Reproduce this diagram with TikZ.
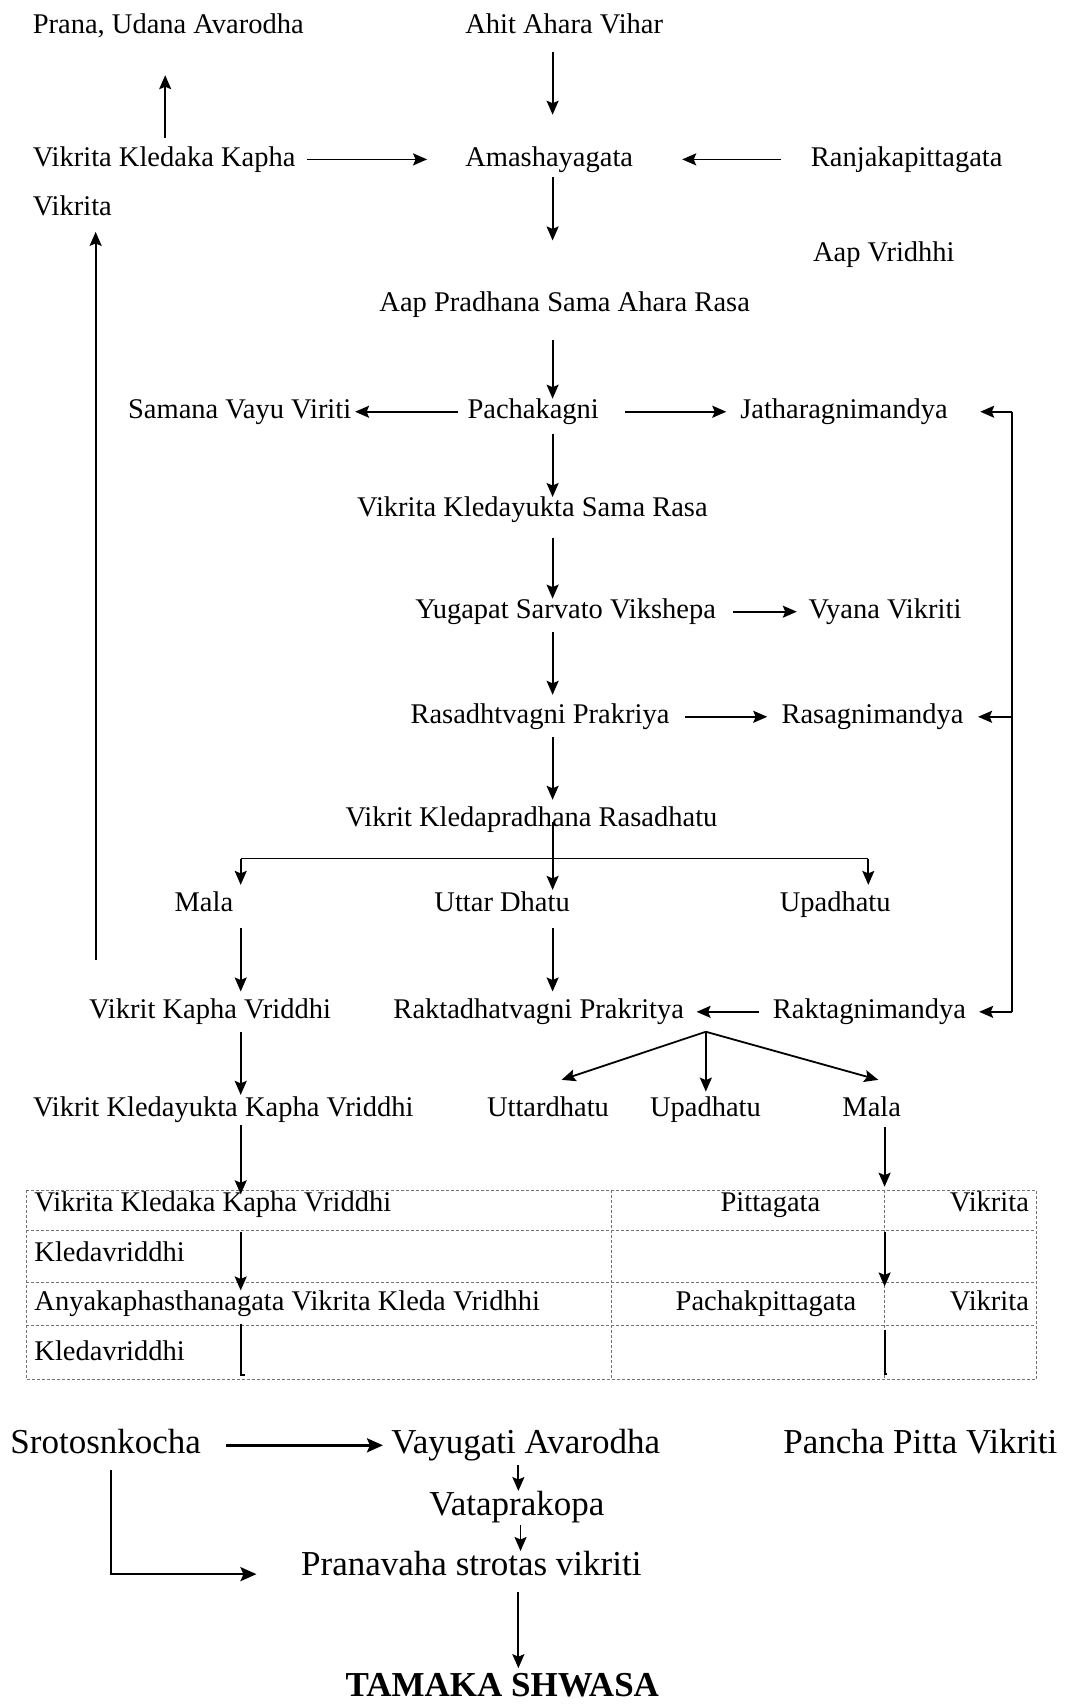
\documentclass[tikz,border=0pt]{standalone}
\usepackage{fontspec}
\setmainfont{Liberation Serif}
\usetikzlibrary{arrows.meta,calc}
\newdimen\pxu \pxu=1.0866pt
\begin{document}
\begin{tikzpicture}[x=1.0866pt,y=-1.0866pt,
  lbl/.style={inner sep=0pt,anchor=base west,font=\fontsize{28.5}{30}\selectfont,text height=19.5pt,text depth=6.2pt},
  lble/.style={lbl,anchor=base east},
  big/.style={inner sep=0pt,anchor=base west,font=\fontsize{35}{38}\selectfont,text height=24pt,text depth=7.6pt},
  arr/.style={line width=1.8pt,-{Stealth[length=14pt,width=12pt,inset=2.5pt]}},
  arrb/.style={line width=2.6pt,-{Stealth[length=16pt,width=14pt,inset=3pt]}},
  ln/.style={line width=1.8pt},
  tbl/.style={draw=black!55,line width=1.1pt,dash pattern=on 3pt off 2pt},
  sa/.style={shorten <=#1\pxu},
  sb/.style={shorten >=#1\pxu}]
\fill[white] (0,0) rectangle (982,1568);
\useasboundingbox (0,0) rectangle (982,1568);

% column coordinates
\coordinate (T) at (508.5,0);
\coordinate (cA) at (152,0);
\coordinate (cV) at (88,0);
\coordinate (cL) at (221.5,0);
\coordinate (cR) at (814,0);
\coordinate (Lx) at (931,0);
\coordinate (T2) at (477,0);
\coordinate (T3) at (479,0);
\coordinate (brL) at (221.5,790);
\coordinate (brR) at (799,790);
\coordinate (apex) at (649.5,949.4);
\coordinate (cS) at (102,1448.5);

% nodes
\node[lbl] (prana) at (30,30.7) {Prana, Udana Avarodha};
\node[lbl] (ahit) at (428,30.7) {Ahit Ahara Vihar};
\node[lbl] (vkk) at (30,152.8) {Vikrita Kledaka Kapha};
\node[lbl] (amash) at (428,152.8) {Amashayagata};
\node[lbl] (ranjak) at (746,152.8) {Ranjakapittagata};
\node[lbl] (vikrita1) at (30,197.9) {Vikrita};
\node[lbl] (aapv) at (748,240.8) {Aap Vridhhi};
\node[lbl] (aap) at (349,286.8) {Aap Pradhana Sama Ahara Rasa};
\node[lbl] (samana) at (117.7,385) {Samana Vayu Viriti};
\node[lbl] (pachak) at (430,385) {Pachakagni};
\node[lbl] (jathar) at (681,385) {Jatharagnimandya};
\node[lbl] (vksr) at (328.5,475.5) {Vikrita Kledayukta Sama Rasa};
\node[lbl] (yuga) at (382,569) {Yugapat Sarvato Vikshepa};
\node[lbl] (vyana) at (744,569) {Vyana Vikriti};
\node[lbl] (rasad) at (377.6,665.7) {Rasadhtvagni Prakriya};
\node[lbl] (rasag) at (719,665.7) {Rasagnimandya};
\node[lbl] (vkrd) at (317.8,760.2) {Vikrit Kledapradhana Rasadhatu};
\node[lbl] (mala1) at (160.5,839) {Mala};
\node[lbl] (uttar1) at (399.6,839) {Uttar Dhatu};
\node[lbl] (upa1) at (717.4,839) {Upadhatu};
\node[lbl] (vkv) at (81.8,937.2) {Vikrit Kapha Vriddhi};
\node[lbl] (rakt) at (361.9,937.2) {Raktadhatvagni Prakritya};
\node[lbl] (raktm) at (711,937.2) {Raktagnimandya};
\node[lbl] (vkkv) at (30.2,1027.7) {Vikrit Kledayukta Kapha Vriddhi};
\node[lbl] (uttar2) at (448,1027.7) {Uttardhatu};
\node[lbl] (upa2) at (598,1027.7) {Upadhatu};
\node[lbl] (mala2) at (775,1027.7) {Mala};

% table
\draw[tbl] (24,1095.2) rectangle (953.4,1269.4);
\draw[tbl] (24,1132.6) -- (953.4,1132.6);
\draw[tbl] (24,1180.1) -- (953.4,1180.1);
\draw[tbl] (24,1219.4) -- (953.4,1219.4);
\draw[tbl] (563,1095.2) -- (563,1269.4);
\draw[tbl] (814,1095.2) -- (814,1269.4);
\node[lbl] (t11) at (31.5,1115.1) {Vikrita Kledaka Kapha Vriddhi};
\node[lble] (t12) at (755,1115.1) {Pittagata};
\node[lble] (t13) at (947,1115.1) {Vikrita};
\node[lbl] (t21) at (31.5,1161.1) {Kledavriddhi};
\node[lbl] (t31) at (31.5,1205.6) {Anyakaphasthanagata Vikrita Kleda Vridhhi};
\node[lble] (t32) at (788,1205.6) {Pachakpittagata};
\node[lble] (t33) at (947,1205.6) {Vikrita};
\node[lbl] (t41) at (31.5,1251.6) {Kledavriddhi};

% bottom nodes
\node[big] (sroto) at (9.4,1337.5) {Srotosnkocha};
\node[big] (vayu) at (360,1337.5) {Vayugati Avarodha};
\node[big] (pancha) at (720.6,1337.5) {Pancha Pitta Vikriti};
\node[big] (vata) at (395,1394.3) {Vataprakopa};
\node[big] (prana2) at (277,1449.5) {Pranavaha strotas vikriti};
\node[big,font=\fontsize{35}{38}\selectfont\bfseries] (tamaka) at (317.8,1561.4) {TAMAKA SHWASA};

% connectors
\draw[arr,sa=11.2,sb=29.1] (ahit.south -| T) -- (amash.north -| T);
\draw[arr,sa=7.9,sb=32.6] (vkk.north -| cA) -- (prana.south -| cA);
\draw[arr,sa=10,sb=35] (vkk.east) -- (amash.west);
\draw[arr,sa=27,sb=45] (ranjak.west) -- (amash.east);
\draw[arr,sa=4.1,sb=47.4] (amash.south -| T) -- (aap.north -| T);
\draw[arr,sa=35.8,sb=9.6] (vkv.north -| cV) -- (vikrita1.south -| cV);
\draw[arr,sa=20.4] (aap.south -| T) -- (pachak.north -| T);
\draw[arr,sa=8.4,sb=3.4] (pachak.west) -- (samana.east);
\draw[arr,sa=23.6,sb=12.7] (pachak.east) -- (jathar.west);
\draw[ln] (jathar.east -| Lx) -- (raktm.east -| Lx);
\draw[arr] (jathar.east -| Lx) -- ($(jathar.east -| Lx)+(-29,0)$);
\draw[arr] (rasag.east -| Lx) -- ($(rasag.east -| Lx)+(-31,0)$);
\draw[arr] (raktm.east -| Lx) -- ($(raktm.east -| Lx)+(-30,0)$);
\draw[arr,sa=8.1] (pachak.south -| T) -- (vksr.north -| T);
\draw[arr,sa=13.3] (vksr.south -| T) -- (yuga.north -| T);
\draw[arr,sa=15.7,sb=10.8] (yuga.east) -- (vyana.west);
\draw[arr,sa=6.6,sb=8.2] (yuga.south -| T) -- (rasad.north -| T);
\draw[arr,sa=14.3,sb=13] (rasad.east) -- (rasag.west);
\draw[arr,sa=6.6,sb=6.1] (rasad.south -| T) -- (vkrd.north -| T);
\draw[arr,sa=-10,sb=2] (vkrd.south -| T) -- (uttar1.north -| T);
\draw[ln] (brL) -- (brR);
\draw[arr,sb=6.6] (brL) -- (mala1.north -| brL);
\draw[arr,sb=6.6] (brR) -- (upa1.north -| brR);
\draw[arr,sa=8.7,sb=6.7] (mala1.south -| cL) -- (vkv.north -| cL);
\draw[arr,sa=8.7,sb=6.7] (uttar1.south -| T) -- (rakt.north -| T);
\draw[arr,sa=12.4,sb=11.4] (raktm.west) -- (rakt.east);
\draw[arr] (apex) -- ($(uttar2.north)+(12.5,-15.9)$);
\draw[arr,sb=5.1] (apex) -- (upa2.north -| apex);
\draw[arr] (apex) -- ($(mala2.north)+(6.1,-15.9)$);
\draw[arr,sa=6.5,sb=2.1] (vkv.south -| cL) -- (vkkv.north -| cL);
\draw[arr,sa=1.9,sb=-2] (vkkv.south -| cL) -- (t11.north -| cL);
\draw[arr,sa=3.6,sb=5] (mala2.south -| cR) -- (t13.north -| cR);
\draw[arr,sa=12.7] (t11.south -| cL) -- (t31.north -| cL);
\draw[arr,sa=12.7,sb=3.7] (t13.south -| cR) -- (t33.north -| cR);
\draw[ln,sa=7.2] (t31.south -| cL) -- ($(t41.south -| cL)+(0,8)$) -- ++(4,0);
\draw[ln,sa=12.7] (t33.south -| cR) -- ($(t41.south -| cR)+(0,7)$) -- ++(2,0);

\draw[arrb,sa=23.3,sb=7.6] (sroto.east) -- (vayu.west);
\draw[arr,sa=3.7] (vayu.south -| T2) -- (vata.north -| T2);
\draw[arr,sa=2.1] (vata.south -| T3) -- (prana2.north -| T3);
\draw[arrb,sa=8.3] (sroto.south -| cS) -- (cS) -- ($(prana2.west |- cS)+(-41,0)$);
\draw[arr,sa=8.1,sb=4.1] (prana2.south -| T2) -- (tamaka.north -| T2);
\end{tikzpicture}
\end{document}
